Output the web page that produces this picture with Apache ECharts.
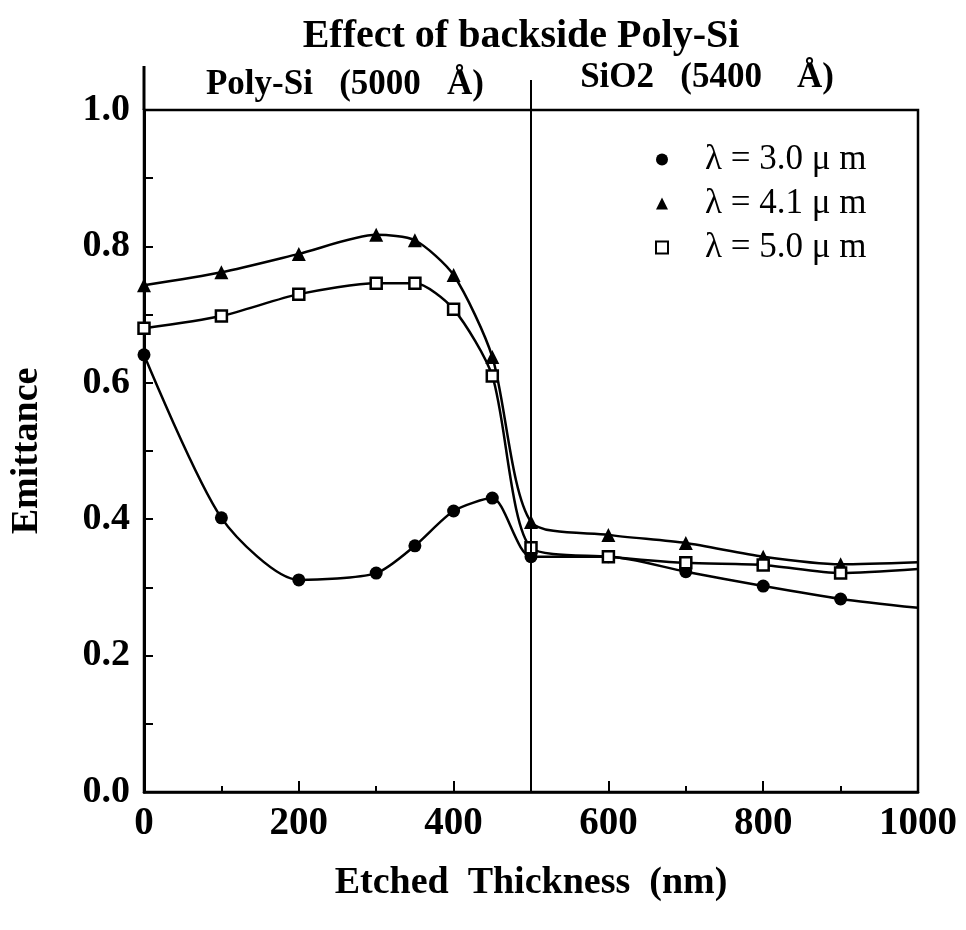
<!DOCTYPE html>
<html>
<head>
<meta charset="utf-8">
<script src="https://cdn.jsdelivr.net/npm/echarts@6/dist/echarts.min.js"></script>
<style>
  html, body { margin: 0; padding: 0; background: #fff; }
  #main { width: 966px; height: 930px; }
</style>
</head>
<body>
<div id="main"></div>
<script>
// etched thickness (nm) where points were measured
var thickness = [0, 100, 200, 300, 350, 400, 450, 500, 600, 700, 800, 900];
// emittance per wavelength
var lam30 = [0.641, 0.402, 0.311, 0.321, 0.361, 0.412, 0.431, 0.345, 0.345, 0.323, 0.302, 0.283];
var lam41 = [0.743, 0.762, 0.789, 0.817, 0.809, 0.758, 0.638, 0.396, 0.377, 0.365, 0.345, 0.334];
var lam50 = [0.680, 0.698, 0.730, 0.746, 0.746, 0.708, 0.610, 0.358, 0.345, 0.336, 0.333, 0.321];
// curves run on to the right edge without a marker
var endX = 1000;
var lam30End = 0.270, lam41End = 0.337, lam50End = 0.327;
var seriesNames = ['λ = 3.0 μ m', 'λ = 4.1 μ m', 'λ = 5.0 μ m'];
var layerSplit = 500;

var serif = '"Liberation Serif", "DejaVu Serif", serif';

function makeData(vals, endVal) {
    var d = [];
    for (var i = 0; i < thickness.length; i++) d.push([thickness[i], vals[i]]);
    d.push({ value: [endX, endVal], symbol: 'none' });
    return d;
}

function makeSeries(name, vals, endVal, symbol, size, itemStyle) {
    return {
        name: name,
        type: 'line',
        smooth: 0.25,
        data: makeData(vals, endVal),
        symbol: symbol,
        symbolSize: size,
        showAllSymbol: true,
        lineStyle: { color: '#000', width: 2.5 },
        itemStyle: itemStyle,
        z: 3
    };
}

var chart = echarts.init(document.getElementById('main'));

var s30 = makeSeries(seriesNames[0], lam30, lam30End, 'circle', 13, { color: '#000' });
var s41 = makeSeries(seriesNames[1], lam41, lam41End, 'triangle', 14, { color: '#000' });
var s50 = makeSeries(seriesNames[2], lam50, lam50End, 'rect', 11,
    { color: '#fff', borderColor: '#000', borderWidth: 2.5, opacity: 1 });
s30.markLine = {
    silent: true,
    symbol: 'none',
    label: { show: false },
    lineStyle: { color: '#000', width: 2, type: 'solid' },
    data: [{ xAxis: layerSplit }]
};

chart.setOption({
    animation: false,
    backgroundColor: '#fff',
    title: [
        { text: 'Effect of backside Poly-Si', left: 516, top: 12, textAlign: 'center',
          textStyle: { fontFamily: serif, fontWeight: 'bold', fontSize: 40, color: '#000' } },
        { text: 'Poly-Si   (5000   Å)', left: 340, top: 62, textAlign: 'center',
          textStyle: { fontFamily: serif, fontWeight: 'bold', fontSize: 35, color: '#000' } },
        { text: 'SiO2   (5400    Å)', left: 702, top: 55, textAlign: 'center',
          textStyle: { fontFamily: serif, fontWeight: 'bold', fontSize: 35, color: '#000' } }
    ],
    legend: {
        orient: 'vertical',
        left: 650,
        top: 137,
        itemWidth: 12,
        itemHeight: 12,
        itemGap: 9,
        textStyle: { fontFamily: serif, fontSize: 35, color: '#000', lineHeight: 34, padding: [0, 0, 0, 32] },
        data: [
            { name: seriesNames[0], icon: 'circle' },
            { name: seriesNames[1], icon: 'triangle' },
            { name: seriesNames[2], icon: 'rect' }
        ]
    },
    grid: {
        left: 144, right: 48, top: 110, bottom: 138,
        show: true, borderColor: '#000', borderWidth: 2.5, backgroundColor: 'transparent'
    },
    xAxis: {
        type: 'value',
        min: 0, max: 1000, interval: 200,
        name: 'Etched  Thickness  (nm)',
        nameLocation: 'middle',
        nameGap: 72,
        nameTextStyle: { fontFamily: serif, fontWeight: 'bold', fontSize: 38, color: '#000' },
        axisLine: { lineStyle: { color: '#000', width: 2.5 } },
        axisTick: { inside: true, length: 11, lineStyle: { color: '#000', width: 2 } },
        minorTick: { show: true, splitNumber: 2, length: 6, lineStyle: { color: '#000', width: 2 } },
        splitLine: { show: false },
        axisLabel: {
            margin: 12, fontFamily: serif, fontWeight: 'bold', fontSize: 39, color: '#000',
            formatter: function (v) { return String(v); }
        }
    },
    yAxis: {
        type: 'value',
        min: 0, max: 1, interval: 0.2,
        name: 'Emittance',
        nameLocation: 'middle',
        nameRotate: 90,
        nameGap: 98,
        nameTextStyle: { fontFamily: serif, fontWeight: 'bold', fontSize: 38, color: '#000' },
        axisLine: { lineStyle: { color: '#000', width: 3 } },
        axisTick: { inside: true, length: 9, lineStyle: { color: '#000', width: 2 } },
        minorTick: { show: true, splitNumber: 2, length: 9, lineStyle: { color: '#000', width: 2 } },
        splitLine: { show: false },
        axisLabel: {
            margin: 14, fontFamily: serif, fontWeight: 'bold', fontSize: 38, color: '#000',
            formatter: function (v) { return v.toFixed(1); }
        }
    },
    series: [s30, s41, s50]
});

// the left axis and the layer boundary run up past the frame
var pTop0 = chart.convertToPixel({ gridIndex: 0 }, [0, 1]);
var pTopSplit = chart.convertToPixel({ gridIndex: 0 }, [layerSplit, 1]);
chart.setOption({
    graphic: [
        { type: 'line', shape: { x1: pTop0[0], y1: pTop0[1], x2: pTop0[0], y2: 66 },
          style: { stroke: '#000', lineWidth: 3 } },
        { type: 'line', shape: { x1: pTopSplit[0], y1: pTopSplit[1], x2: pTopSplit[0], y2: 80 },
          style: { stroke: '#000', lineWidth: 2 } }
    ]
});
</script>
</body>
</html>
